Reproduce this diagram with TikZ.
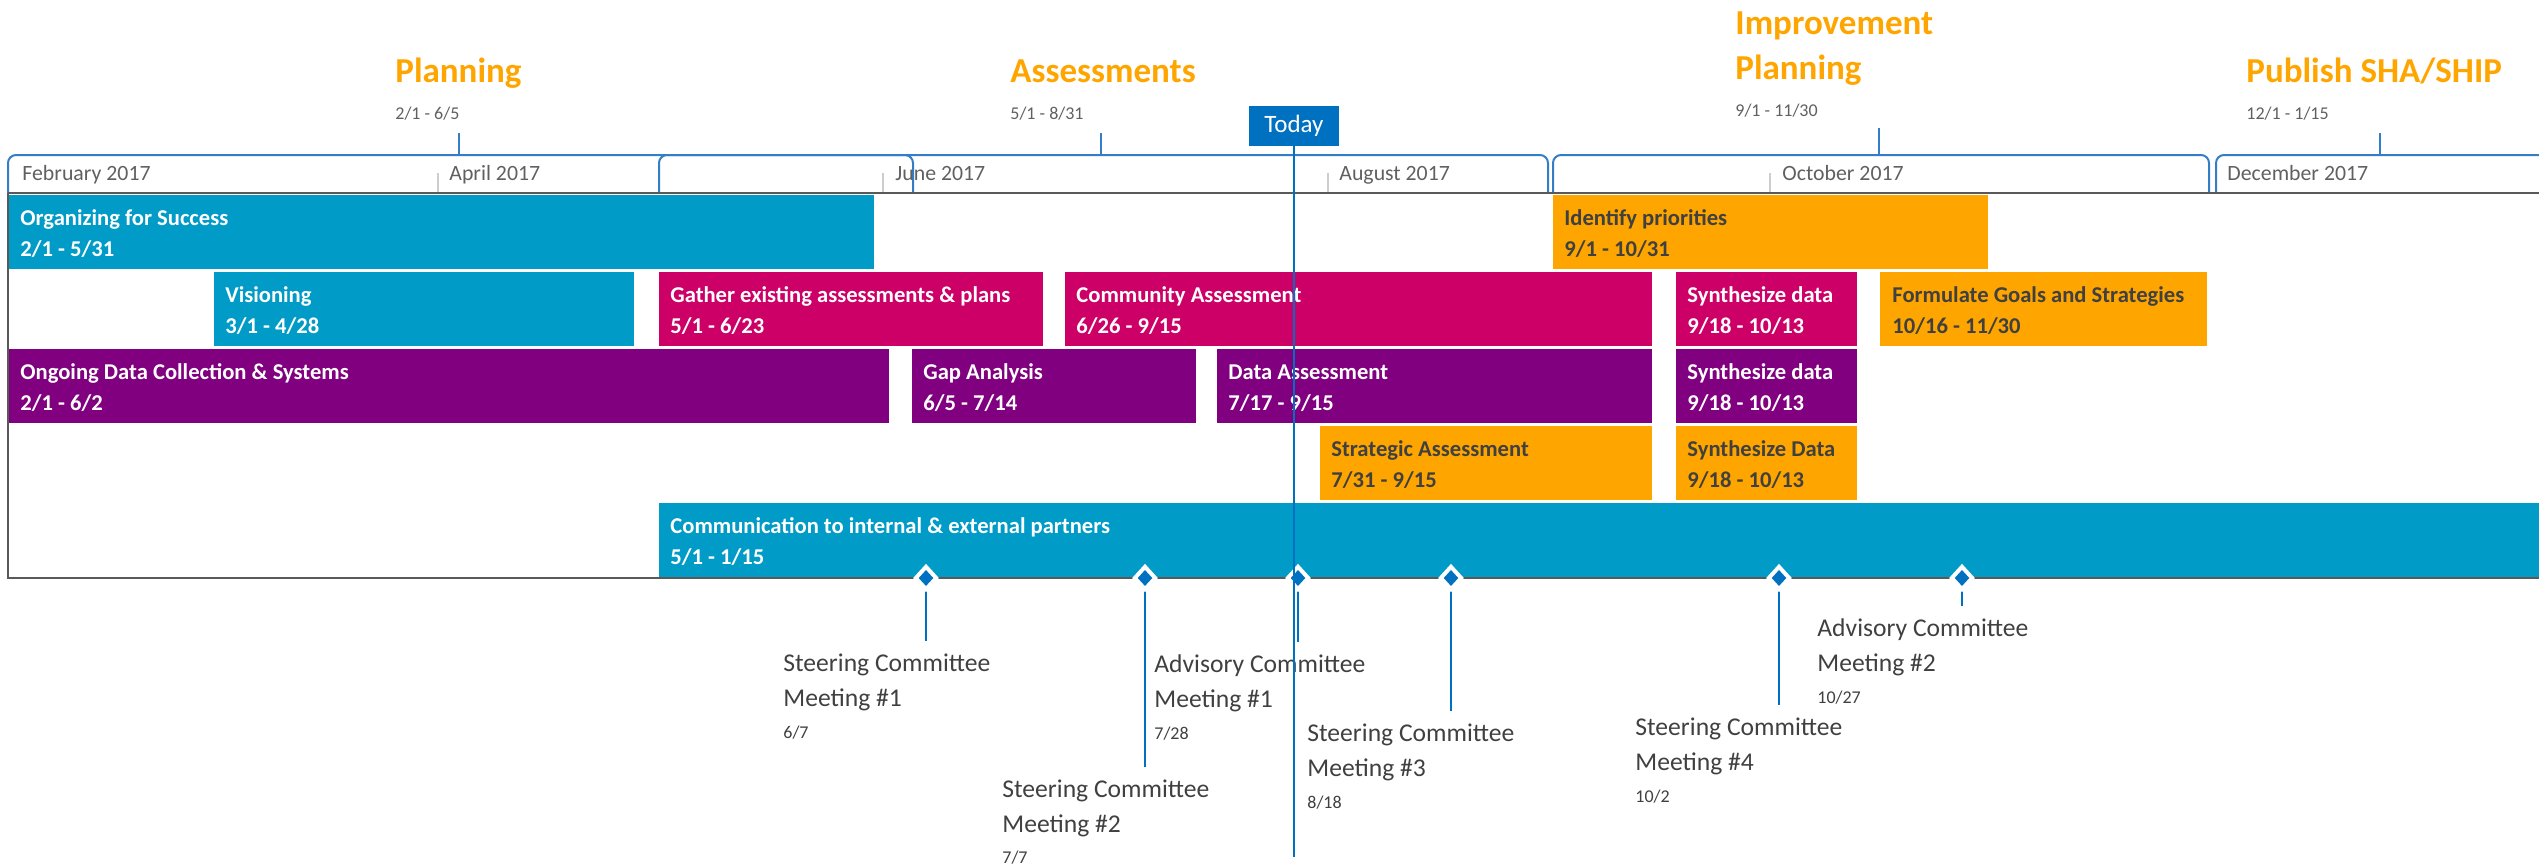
\documentclass[tikz,border=0pt]{standalone}
\usepackage{fontspec}
\setmainfont{Carlito}
\usetikzlibrary{shapes.geometric}

\definecolor{barteal}{RGB}{0,155,198}
\definecolor{barpink}{RGB}{204,0,102}
\definecolor{barpurple}{RGB}{128,0,128}
\definecolor{barorange}{RGB}{255,165,0}
\definecolor{linkblue}{RGB}{0,112,192}
\definecolor{scaleblue}{RGB}{52,126,200}
\definecolor{darktext}{RGB}{64,64,64}
\definecolor{greytext}{RGB}{96,96,96}
\definecolor{framegrey}{RGB}{89,89,89}
\definecolor{tickgrey}{RGB}{205,205,205}

\tikzset{
  phasetitle/.style={anchor=base west, inner sep=0pt, text=barorange, font=\fontsize{17.5}{22.5}\selectfont\bfseries},
  phasedate/.style={anchor=base west, inner sep=0pt, text=greytext, font=\fontsize{9}{11}\selectfont},
  monthlabel/.style={anchor=base west, inner sep=0pt, text=greytext, font=\fontsize{10.9}{12}\selectfont},
  bartext/.style={anchor=base west, inner sep=0pt, text=white, font=\fontsize{11.3}{13}\selectfont\bfseries},
  bartextdark/.style={bartext, text=darktext},
  bracket/.style={draw=scaleblue, line width=1pt, rounded corners=4pt},
  monthtick/.style={draw=tickgrey, line width=0.75pt},
  frameline/.style={draw=framegrey, line width=1.25pt},
  milestone/.style={diamond, fill=linkblue, draw=white, line width=2pt, inner sep=0pt, minimum width=11pt, minimum height=12pt},
  stem/.style={draw=linkblue, line width=0.9pt, shorten >=6pt},
  milelabel/.style={anchor=north west, inner sep=0pt, align=left, text=darktext, font=\fontsize{12.8}{17.5}\selectfont},
  todaybox/.style={fill=linkblue, text=white, inner sep=0pt, minimum width=45pt, minimum height=20pt, font=\fontsize{12.5}{15}\selectfont},
}
\newcommand{\miledate}[1]{{\fontsize{9}{17.5}\selectfont #1}}

\begin{document}
\begin{tikzpicture}[x=0.5pt,y=0.5pt,yscale=-1]
        \useasboundingbox (0,0) rectangle (2539,867);

        % Text Node
        \node[phasetitle] (planning) at (395,83) {Planning};
        \node[phasedate] (planningdate) at (395,119) {2/1 - 6/5};
        % Text Node
        \node[phasetitle] (assess) at (1010,83) {Assessments};
        \node[phasedate] (assessdate) at (1010,119) {5/1 - 8/31};
        % Text Node (base is the last line)
        \node[phasetitle, align=left] (improve) at (1735,79) {Improvement\\Planning};
        \node[phasedate] (improvedate) at (1735,116) {9/1 - 11/30};
        % Text Node
        \node[phasetitle] (publish) at (2246,83) {Publish SHA/SHIP};
        \node[phasedate] (publishdate) at (2246,119) {12/1 - 1/15};

        %Shape: Brackets of the phases
        \draw[bracket] (8,193) -- (8,155) -- (913,155) -- (913,193);
        \draw[bracket] (659,193) -- (659,155) -- (1548,155) -- (1548,193);
        \draw[bracket] (1553,193) -- (1553,155) -- (2209,155) -- (2209,193);
        \draw[bracket] (2216,193) -- (2216,155) -- (2600,155);
        \draw[bracket] (459,155) -- (459,133);
        \draw[bracket] (1101,155) -- (1101,133);
        \draw[bracket] (1879,155) -- (1879,128);
        \draw[bracket] (2380,155) -- (2380,133);

        %Straight Lines: month ticks
        \draw[monthtick] (438,173) -- (438,193);
        \draw[monthtick] (883,173) -- (883,193);
        \draw[monthtick] (1328,173) -- (1328,193);
        \draw[monthtick] (1770,173) -- (1770,193);
        % Text Node
        \node[monthlabel] (feb) at (22,180) {February 2017};
        \node[monthlabel] (apr) at (449,180) {April 2017};
        \node[monthlabel] (jun) at (895,180) {June 2017};
        \node[monthlabel] (aug) at (1339,180) {August 2017};
        \node[monthlabel] (oct) at (1782,180) {October 2017};
        \node[monthlabel] (dec) at (2227,180) {December 2017};

        %Straight Lines: frame
        \draw[frameline] (8,193) -- (2539,193);
        \draw[frameline] (8,193) -- (8,578) -- (2539,578);

        %Shape: Rectangle -- row 1
        \fill[barteal] (9,195) rectangle (874,269);
        \node[bartext] (orgname) at (20,225) {Organizing for Success};
        \node[bartext] (orgdate) at (20,256) {2/1 - 5/31};
        \fill[barorange] (1553,195) rectangle (1988,269);
        \node[bartextdark] (identname) at (1564,225) {Identify priorities};
        \node[bartextdark] (identdate) at (1564,256) {9/1 - 10/31};

        %Shape: Rectangle -- row 2
        \fill[barteal] (214,272) rectangle (634,346);
        \node[bartext] (visname) at (225,302) {Visioning};
        \node[bartext] (visdate) at (225,333) {3/1 - 4/28};
        \fill[barpink] (659,272) rectangle (1043,346);
        \node[bartext] (gathername) at (670,302) {Gather existing assessments \& plans};
        \node[bartext] (gatherdate) at (670,333) {5/1 - 6/23};
        \fill[barpink] (1065,272) rectangle (1652,346);
        \node[bartext] (commname) at (1076,302) {Community Assessment};
        \node[bartext] (commdate) at (1076,333) {6/26 - 9/15};
        \fill[barpink] (1676,272) rectangle (1857,346);
        \node[bartext] (synthaname) at (1687,302) {Synthesize data};
        \node[bartext] (synthadate) at (1687,333) {9/18 - 10/13};
        \fill[barorange] (1880,272) rectangle (2207,346);
        \node[bartextdark] (goalname) at (1892,302) {Formulate Goals and Strategies};
        \node[bartextdark] (goaldate) at (1892,333) {10/16 - 11/30};

        %Shape: Rectangle -- row 3
        \fill[barpurple] (9,349) rectangle (889,423);
        \node[bartext] (ongoname) at (20,379) {Ongoing Data Collection \& Systems};
        \node[bartext] (ongodate) at (20,410) {2/1 - 6/2};
        \fill[barpurple] (912,349) rectangle (1196,423);
        \node[bartext] (gapname) at (923,379) {Gap Analysis};
        \node[bartext] (gapdate) at (923,410) {6/5 - 7/14};
        \fill[barpurple] (1217,349) rectangle (1652,423);
        \node[bartext] (dataname) at (1228,379) {Data Assessment};
        \node[bartext] (datadate) at (1228,410) {7/17 - 9/15};
        \fill[barpurple] (1676,349) rectangle (1857,423);
        \node[bartext] (synthbname) at (1687,379) {Synthesize data};
        \node[bartext] (synthbdate) at (1687,410) {9/18 - 10/13};

        %Shape: Rectangle -- row 4
        \fill[barorange] (1320,426) rectangle (1652,500);
        \node[bartextdark] (stratname) at (1331,456) {Strategic Assessment};
        \node[bartextdark] (stratdate) at (1331,487) {7/31 - 9/15};
        \fill[barorange] (1676,426) rectangle (1857,500);
        \node[bartextdark] (synthcname) at (1687,456) {Synthesize Data};
        \node[bartextdark] (synthcdate) at (1687,487) {9/18 - 10/13};

        %Shape: Rectangle -- row 5
        \fill[barteal] (659,503) rectangle (2539,577);
        \node[bartext] (partname) at (670,533) {Communication to internal \& external partners};
        \node[bartext] (partdate) at (670,564) {5/1 - 1/15};

        % Text Node: milestone labels
        \node[milelabel] (m1l) at (783,653) {Steering Committee\\Meeting \#1\\[-1.5pt]\miledate{6/7}};
        \node[milelabel] (m2l) at (1002,779) {Steering Committee\\Meeting \#2\\[-2pt]\miledate{7/7}};
        \node[milelabel] (m3l) at (1154,654) {Advisory Committee\\Meeting \#1\\[-1.5pt]\miledate{7/28}};
        \node[milelabel] (m4l) at (1307,723) {Steering Committee\\Meeting \#3\\[-1.5pt]\miledate{8/18}};
        \node[milelabel] (m5l) at (1635,717) {Steering Committee\\Meeting \#4\\[-1.5pt]\miledate{10/2}};
        \node[milelabel] (m6l) at (1817,618) {Advisory Committee\\Meeting \#2\\[-1.5pt]\miledate{10/27}};

        %Shape: Diamond
        \coordinate (m1) at (926,578);
        \coordinate (m2) at (1145,578);
        \coordinate (m3) at (1298,578);
        \coordinate (m4) at (1451,578);
        \coordinate (m5) at (1779,578);
        \coordinate (m6) at (1962,578);
        \draw[stem] (m1) -- (m1 |- m1l.north);
        \draw[stem] (m2) -- (m2 |- m2l.north);
        \draw[stem] (m3) -- (m3 |- m3l.north);
        \draw[stem] (m4) -- (m4 |- m4l.north);
        \draw[stem] (m5) -- (m5 |- m5l.north);
        \draw[stem] (m6) -- (m6 |- m6l.north);
        \node[milestone] (m1d) at (m1) {};
        \node[milestone] (m2d) at (m2) {};
        \node[milestone] (m3d) at (m3) {};
        \node[milestone] (m4d) at (m4) {};
        \node[milestone] (m5d) at (m5) {};
        \node[milestone] (m6d) at (m6) {};

        % Text Node: today marker
        \node[todaybox] (today) at (1294,126) {Today};
        \coordinate (todayend) at (1294,857);
        \draw[draw=linkblue, line width=1pt] (today.south) -- (todayend);

\end{tikzpicture}
\end{document}
